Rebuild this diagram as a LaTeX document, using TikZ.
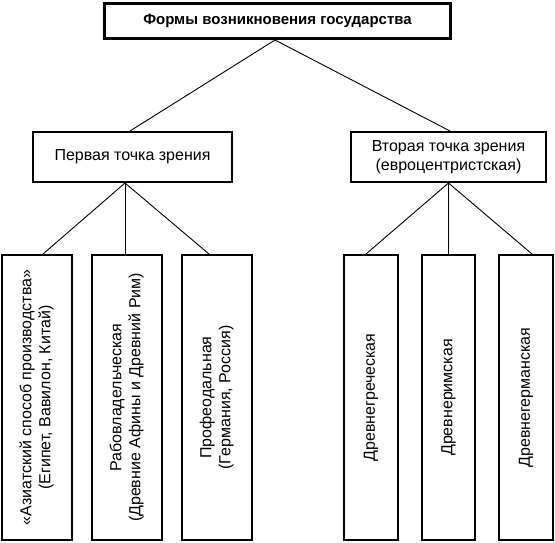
\documentclass[tikz,border=0pt]{standalone}
\usepackage{fontspec}
\setmainfont{Liberation Sans}
\usepackage{graphicx}
\usepackage{tikz}

\newcommand{\vtext}[1]{\rotatebox{90}{\begin{tabular}{@{}c@{}}#1\end{tabular}}}

\begin{document}
\begin{tikzpicture}[-,x=1pt,y=-1pt,
   thin,top node/.style={draw,line width=3pt,inner sep=0pt,font=\fontsize{15}{18}\selectfont\bfseries}]

\tikzstyle {edge} = [-, line width=0.9pt];
\tikzstyle {view node} = [draw,line width=2pt,inner sep=0pt,minimum height=50pt,align=center,font=\fontsize{16}{19}\selectfont];
\tikzstyle {form node} = [draw,line width=2pt,inner sep=0pt,minimum height=285pt,font=\fontsize{16}{19}\selectfont];

\useasboundingbox (0,0) rectangle (555,542);

\node[top node,minimum width=346pt,minimum height=35pt] (forms) at (277.5,21){Формы возникновения государства};

\node[view node,minimum width=199pt] (first) at (132.5,157){Первая точка зрения};
\node[view node,minimum width=195pt] (second) at (448.5,157){Вторая точка зрения\\(евроцентристская)};

\node[form node,minimum width=70pt] (asia) at (37,397.5){\vtext{«Азиатский способ производства»\\(Египет, Вавилон, Китай)}};
\node[form node,minimum width=70pt] (slave) at (127,397.5){\vtext{Рабовладельческая\\(Древние Афины и Древний Рим)}};
\node[form node,minimum width=70pt] (feud) at (217,397.5){\vtext{Профеодальная\\(Германия, Россия)}};
\node[form node,minimum width=54pt] (greek) at (371,397.5){\vtext{Древнегреческая}};
\node[form node,minimum width=53pt] (roman) at (448.5,397.5){\vtext{Древнеримская}};
\node[form node,minimum width=54pt] (german) at (526,397.5){\vtext{Древнегерманская}};

%\draw [-] (forms) -- (first);

\path ([xshift=-2.5pt]forms.south) edge [edge]  ([xshift=-2.5pt]first.north);
\path ([xshift=-2.5pt]forms.south) edge [edge]  ([xshift=1.5pt]second.north);
\path ([xshift=-7.5pt]first.south) edge [edge]  ([xshift=6pt]asia.north);
\path ([xshift=-7.5pt]first.south) edge [edge]  ([xshift=-2pt]slave.north);
\path ([xshift=-7.5pt]first.south) edge [edge]  ([xshift=-8pt]feud.north);
\path (second.south) edge [edge]  ([xshift=-5pt]greek.north);
\path (second.south) edge [edge]  (roman.north);
\path (second.south) edge [edge]  ([xshift=6pt]german.north);

\end{tikzpicture}
\end{document}
